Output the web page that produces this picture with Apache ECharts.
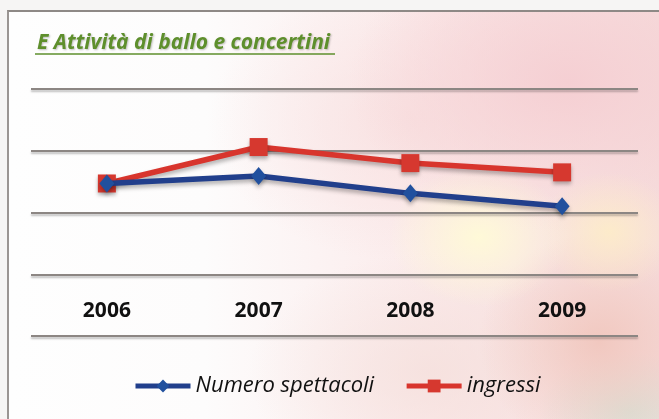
<!DOCTYPE html>
<html>
<head>
<meta charset="utf-8">
<script src="https://cdn.jsdelivr.net/npm/echarts@6/dist/echarts.min.js"></script>
<style>
  html, body { margin: 0; padding: 0; }
  body { width: 659px; height: 419px; overflow: hidden; background: #f6f5f4; position: relative; }
  #bg {
    position: absolute; left: 7px; top: 10px; right: 0; bottom: 0;
    border-top: 2px solid #8e8986; border-left: 2px solid #9a9592;
    background:
      radial-gradient(ellipse 90px 70px at 470px 225px, rgba(255,250,215,0.95), rgba(255,250,215,0) 100%),
      radial-gradient(ellipse 70px 60px at 600px 220px, rgba(253,236,200,0.9), rgba(253,236,200,0) 100%),
      radial-gradient(ellipse 120px 110px at 590px 330px, rgba(240,196,186,0.85), rgba(240,196,186,0) 100%),
      radial-gradient(ellipse 90px 60px at 620px 400px, rgba(214,226,214,0.9), rgba(214,226,214,0) 100%),
      radial-gradient(ellipse 220px 150px at 560px 70px, rgba(245,206,210,0.95), rgba(245,206,210,0) 100%),
      radial-gradient(ellipse 200px 140px at 400px 110px, rgba(248,222,222,0.75), rgba(248,222,222,0) 100%),
      radial-gradient(ellipse 180px 120px at 420px 360px, rgba(244,222,218,0.7), rgba(244,222,218,0) 100%),
      linear-gradient(90deg, #fefefe 0%, #fdfcfc 30%, #fbeaea 65%, #f6dcdc 100%);
  }
  #chart { position: absolute; left: 0; top: 0; width: 659px; height: 419px; }
</style>
</head>
<body>
<div id="bg"></div>
<div id="chart"></div>
<script>
// Categories and series values
const years = ['2006', '2007', '2008', '2009'];
const numeroSpettacoli = [147, 159, 131, 110];
const ingressi = [147, 206, 180, 165];
const seriesNames = ['Numero spettacoli', 'ingressi'];
const titleText = 'E Attività di ballo e concertini';

const chart = echarts.init(document.getElementById('chart'), null, { renderer: 'canvas' });

const gridLine = {
  color: '#8c8683', width: 2,
  shadowColor: 'rgba(0,0,0,0.25)', shadowBlur: 2, shadowOffsetY: 2
};

chart.setOption({
  backgroundColor: 'transparent',
  animation: false,
  title: {
    text: titleText,
    left: 32, top: 28,
    textStyle: {
      fontFamily: 'Open Sans', fontSize: 21, fontWeight: 'bold', fontStyle: 'italic',
      color: '#5e8f2c',
      textShadowColor: 'rgba(0,0,0,0.25)', textShadowBlur: 2, textShadowOffsetX: 1, textShadowOffsetY: 1
    }
  },
  graphic: [{
    type: 'line', shape: { x1: 35, y1: 54, x2: 335, y2: 54 },
    style: { stroke: '#5e8f2c', lineWidth: 1.5 }
  }],
  legend: {
    data: seriesNames,
    left: 128, top: 370,
    itemWidth: 55, itemHeight: 16, itemGap: 30,
    lineStyle: { width: 5 },
    textStyle: { fontFamily: 'Open Sans', fontSize: 22, fontStyle: 'italic', color: '#111' }
  },
  grid: { left: 31, right: 21, top: 89, bottom: 83, containLabel: false },
  xAxis: {
    type: 'category',
    data: years,
    boundaryGap: true,
    axisLine: { show: false },
    axisTick: { show: false },
    splitLine: { show: false },
    axisLabel: {
      margin: -35,
      fontFamily: 'Open Sans', fontSize: 21, fontWeight: 'bold', color: '#111'
    }
  },
  yAxis: {
    type: 'value',
    min: -100, max: 300, interval: 100,
    axisLine: { show: false },
    axisTick: { show: false },
    axisLabel: { show: false },
    splitLine: { show: true, lineStyle: gridLine }
  },
  series: [
    {
      name: seriesNames[0],
      type: 'line',
      data: numeroSpettacoli,
      symbol: 'diamond',
      symbolSize: [15, 18],
      lineStyle: { color: '#213f8c', width: 5.5, shadowColor: 'rgba(0,0,0,0.3)', shadowBlur: 4, shadowOffsetY: 3 },
      itemStyle: { color: '#21509e', shadowColor: 'rgba(0,0,0,0.3)', shadowBlur: 4, shadowOffsetY: 3 },
      z: 3
    },
    {
      name: seriesNames[1],
      type: 'line',
      data: ingressi,
      symbol: 'rect',
      symbolSize: 18,
      lineStyle: { color: '#d8352d', width: 5.5, shadowColor: 'rgba(0,0,0,0.3)', shadowBlur: 4, shadowOffsetY: 3 },
      itemStyle: { color: '#d6382f', shadowColor: 'rgba(0,0,0,0.3)', shadowBlur: 4, shadowOffsetY: 3 },
      z: 2
    }
  ]
});
</script>
</body>
</html>
